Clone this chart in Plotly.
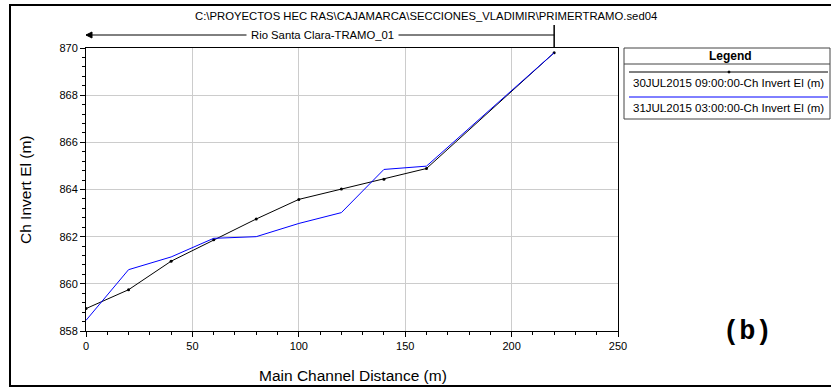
import plotly.graph_objects as go

# Data
dist_30jul = [0, 20, 40, 60, 80, 100, 120, 140, 160, 220]
elev_30jul = [858.95, 859.75, 860.96, 861.87, 862.75, 863.58, 864.02, 864.43, 864.89, 869.8]
dist_31jul = [0, 20, 40, 60, 80, 100, 120, 140, 160, 220]
elev_31jul = [858.45, 860.6, 861.14, 861.93, 862.0, 862.56, 863.02, 864.85, 864.99, 869.8]
series_names = ["30JUL2015 09:00:00-Ch Invert El (m)", "31JUL2015 03:00:00-Ch Invert El (m)"]
reach_name = "Rio Santa Clara-TRAMO_01"
reach_end = 220
file_title = "C:\\PROYECTOS HEC RAS\\CAJAMARCA\\SECCIONES_VLADIMIR\\PRIMERTRAMO.sed04"

W, H = 831, 389
L, R, T, B = 86, 213, 48, 58
PW, PH = W - L - R, H - T - B

def px(x):
    return (x - L) / PW

def py(y):
    return (H - B - y) / PH

FONT = "Liberation Sans, Arial, sans-serif"

fig = go.Figure()
fig.add_trace(go.Scatter(x=dist_30jul, y=elev_30jul, mode="lines+markers",
                         line=dict(color="black", width=1),
                         marker=dict(color="black", size=3),
                         name=series_names[0], showlegend=False))
fig.add_trace(go.Scatter(x=dist_31jul, y=elev_31jul, mode="lines",
                         line=dict(color="#0000ff", width=1),
                         name=series_names[1], showlegend=False))

shapes = []
annotations = []

# outer frame
shapes.append(dict(type="rect", xref="paper", yref="paper",
                   x0=px(10), x1=px(834), y0=py(5), y1=py(386),
                   line=dict(color="black", width=2), fillcolor="rgba(0,0,0,0)"))

# file title
annotations.append(dict(text=file_title, xref="paper", yref="paper",
                        x=px(425.5), y=py(16), showarrow=False,
                        font=dict(family=FONT, size=11.3, color="black"),
                        xanchor="center", yanchor="middle"))

# reach line with arrow
shapes.append(dict(type="line", xref="x", yref="paper", x0=0, x1=reach_end,
                   y0=py(35), y1=py(35), line=dict(color="black", width=1)))
shapes.append(dict(type="line", xref="x", yref="paper", x0=reach_end, x1=reach_end,
                   y0=py(25), y1=py(48), line=dict(color="black", width=1.5)))
shapes.append(dict(type="path", xref="paper", yref="paper",
                   path=f"M {px(92)} {py(32)} L {px(86)} {py(35)} L {px(92)} {py(38)} Z",
                   line=dict(color="black", width=1), fillcolor="black"))
annotations.append(dict(text=reach_name, xref="x", yref="paper",
                        x=reach_end / 2 + 1, y=py(35), showarrow=False,
                        font=dict(family=FONT, size=11.3, color="black"),
                        bgcolor="white", borderpad=4, xanchor="center", yanchor="middle"))

# axis titles
annotations.append(dict(text="Main Channel Distance (m)", xref="paper", yref="paper",
                        x=px(353), y=py(375), showarrow=False,
                        font=dict(family=FONT, size=15.5, color="black"),
                        xanchor="center", yanchor="middle"))
annotations.append(dict(text="Ch Invert El (m)", xref="paper", yref="paper",
                        x=px(25), y=py(190), showarrow=False, textangle=-90,
                        font=dict(family=FONT, size=15.5, color="black"),
                        xanchor="center", yanchor="middle"))

# legend box
lx0, lx1, ly0, ly1 = 624, 830, 48, 119
shapes.append(dict(type="rect", xref="paper", yref="paper",
                   x0=px(lx0), x1=px(lx1), y0=py(ly1), y1=py(ly0),
                   line=dict(color="#444444", width=1), fillcolor="white"))
shapes.append(dict(type="line", xref="paper", yref="paper",
                   x0=px(lx0), x1=px(lx1), y0=py(64), y1=py(64),
                   line=dict(color="#444444", width=1)))
annotations.append(dict(text="<b>Legend</b>", xref="paper", yref="paper",
                        x=px(730), y=py(56), showarrow=False,
                        font=dict(family=FONT, size=12, color="black"),
                        xanchor="center", yanchor="middle"))
shapes.append(dict(type="line", xref="paper", yref="paper",
                   x0=px(629), x1=px(828), y0=py(72), y1=py(72),
                   line=dict(color="black", width=1)))
shapes.append(dict(type="circle", xref="paper", yref="paper",
                   x0=px(728), x1=px(730), y0=py(73), y1=py(71),
                   line=dict(color="black", width=1), fillcolor="black"))
annotations.append(dict(text=series_names[0], xref="paper", yref="paper",
                        x=px(631), y=py(83), showarrow=False,
                        font=dict(family=FONT, size=11.5, color="black"),
                        xanchor="left", yanchor="middle"))
shapes.append(dict(type="line", xref="paper", yref="paper",
                   x0=px(629), x1=px(828), y0=py(97), y1=py(97),
                   line=dict(color="#0000ff", width=1)))
annotations.append(dict(text=series_names[1], xref="paper", yref="paper",
                        x=px(631), y=py(108), showarrow=False,
                        font=dict(family=FONT, size=11.5, color="black"),
                        xanchor="left", yanchor="middle"))

# (b) label
annotations.append(dict(text="<b>(b)</b>", xref="paper", yref="paper",
                        x=px(747), y=py(332), showarrow=False,
                        font=dict(family="Courier New, Liberation Mono, monospace", size=27, color="black"),
                        xanchor="center", yanchor="middle"))

fig.update_layout(
    width=W, height=H,
    margin=dict(l=L, r=R, t=T, b=B, pad=0),
    paper_bgcolor="white", plot_bgcolor="white",
    shapes=shapes, annotations=annotations,
    showlegend=False,
    font=dict(family=FONT, size=11, color="black"),
)
fig.update_xaxes(range=[0, 250], dtick=50, tick0=0, showgrid=True, gridcolor="#cccccc", gridwidth=1,
                 showline=True, linecolor="black", linewidth=1, mirror=True,
                 ticks="outside", ticklen=5, tickcolor="black",
                 minor=dict(dtick=10, ticks="outside", ticklen=3, tickcolor="black", showgrid=False),
                 zeroline=False, tickfont=dict(family=FONT, size=11, color="black"))
fig.update_yaxes(range=[858, 870], dtick=2, tick0=858, showgrid=True, gridcolor="#cccccc", gridwidth=1,
                 showline=True, linecolor="black", linewidth=1, mirror=True,
                 ticks="outside", ticklen=5, tickcolor="black",
                 minor=dict(dtick=0.4, ticks="outside", ticklen=3, tickcolor="black", showgrid=False),
                 zeroline=False, tickfont=dict(family=FONT, size=11, color="black"))

fig.write_html("out.html", config={"displayModeBar": False},
               post_script="document.body.style.margin='0px';document.body.style.overflow='hidden';")
